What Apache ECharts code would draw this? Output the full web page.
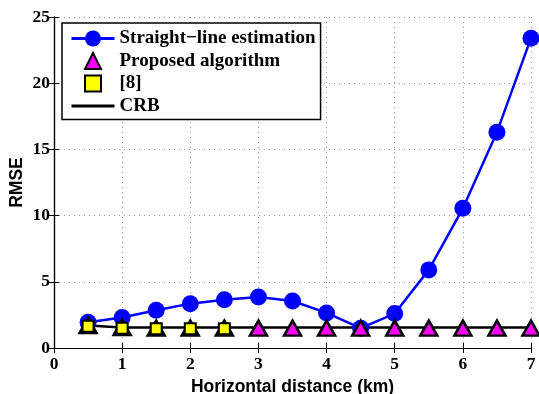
<!DOCTYPE html>
<html><head><meta charset="utf-8">
<script src="https://cdn.jsdelivr.net/npm/echarts@6/dist/echarts.min.js"></script>
<style>html,body{margin:0;padding:0;background:#fff}#c{width:539px;height:394px}</style>
</head><body><div id="c"></div>
<script>
var xValues = [0.5, 1, 1.5, 2, 2.5, 3, 3.5, 4, 4.5, 5, 5.5, 6, 6.5, 7];
var straightLine = [1.95, 2.3, 2.85, 3.35, 3.65, 3.85, 3.55, 2.65, 1.5, 2.6, 5.9, 10.55, 16.3, 23.4];
var proposed = [1.7, 1.55, 1.5, 1.5, 1.5, 1.5, 1.5, 1.5, 1.5, 1.5, 1.5, 1.5, 1.5, 1.5];
var ref8X = [0.5, 1, 1.5, 2, 2.5];
var ref8 = [1.65, 1.5, 1.45, 1.45, 1.45];
var crb = [1.7, 1.55, 1.55, 1.55, 1.55, 1.55, 1.55, 1.55, 1.55, 1.55, 1.55, 1.55, 1.55, 1.55];
var names = ['Straight\u2212line estimation', 'Proposed algorithm', '[8]', 'CRB'];

function pairs(xs, ys) { return xs.map(function (x, i) { return [x, ys[i]]; }); }

var chart = echarts.init(document.getElementById('c'));
var tickFont = { fontFamily: 'Liberation Serif', fontWeight: 'bold', fontSize: 17.5, color: '#000' };
chart.setOption({
  animation: false,
  grid: { left: 54, right: 8, top: 17, bottom: 46, containLabel: false, outerBoundsMode: 'none' },
  legend: {
    orient: 'vertical', left: 62, top: 23,
    padding: [6, 5, 4, 8], itemGap: 3.5, itemWidth: 43, itemHeight: 20,
    backgroundColor: '#fff', borderColor: '#000', borderWidth: 1.5,
    textStyle: { fontFamily: 'Liberation Serif', fontWeight: 'bold', fontSize: 19, color: '#000', padding: [0, 0, 0, 0] },
    data: [
      { name: names[0], lineStyle: { width: 3 } },
      names[1], names[2],
      { name: names[3], itemStyle: { opacity: 0 }, lineStyle: { width: 3 } }
    ]
  },
  xAxis: [{
    type: 'value', min: 0, max: 7, interval: 1,
    name: 'Horizontal distance (km)', nameLocation: 'middle', nameGap: 30, nameMoveOverlap: false,
    nameTextStyle: { fontFamily: 'Liberation Sans', fontWeight: 'bold', fontSize: 17.5, color: '#000' },
    axisLine: { lineStyle: { color: '#000', width: 1.2 } },
    axisTick: { inside: true, length: 5, lineStyle: { color: '#000' } },
    axisLabel: Object.assign({ margin: 7 }, tickFont),
    splitLine: { show: true, lineStyle: { color: '#999', type: [1, 4], width: 1 } }
  }, {
    type: 'value', min: 0, max: 7, interval: 1, position: 'top',
    axisLine: { lineStyle: { color: '#000', width: 1.2 } },
    axisTick: { inside: true, length: 5, lineStyle: { color: '#000' } },
    axisLabel: { show: false }, splitLine: { show: false }
  }],
  yAxis: [{
    type: 'value', min: 0, max: 25, interval: 5,
    name: 'RMSE', nameLocation: 'middle', nameGap: 28, nameRotate: 90, nameMoveOverlap: false,
    nameTextStyle: { fontFamily: 'Liberation Sans', fontWeight: 'bold', fontSize: 17.5, color: '#000' },
    axisLine: { show: true, lineStyle: { color: '#000', width: 1.2 } },
    axisTick: { show: true, inside: true, length: 5, lineStyle: { color: '#000' } },
    axisLabel: Object.assign({ margin: 4 }, tickFont),
    splitLine: { show: true, lineStyle: { color: '#999', type: [1, 4], width: 1 } }
  }, {
    type: 'value', min: 0, max: 25, interval: 5, position: 'right',
    axisLine: { show: true, lineStyle: { color: '#000', width: 1.2 } },
    axisTick: { show: true, inside: true, length: 5, lineStyle: { color: '#000' } },
    axisLabel: { show: false }, splitLine: { show: false }
  }],
  series: [{
    name: names[3], type: 'line', data: pairs(xValues, crb), z: 2,
    symbol: 'none', lineStyle: { color: '#000', width: 2.5 }, itemStyle: { color: '#000' }
  }, {
    name: names[0], type: 'line', data: pairs(xValues, straightLine), z: 3,
    symbol: 'circle', symbolSize: 17, lineStyle: { color: '#0000ff', width: 2.5 },
    itemStyle: { color: '#0000ff', borderWidth: 0 }
  }, {
    name: names[1], type: 'line', data: pairs(xValues, proposed), z: 4,
    symbol: 'triangle', symbolSize: [17, 15], lineStyle: { width: 0, opacity: 0 },
    itemStyle: { color: '#ff00ff', borderColor: '#000', borderWidth: 2.5 }
  }, {
    name: names[2], type: 'line', data: pairs(ref8X, ref8), z: 5,
    symbol: 'rect', symbolSize: 11, lineStyle: { width: 0, opacity: 0 },
    itemStyle: { color: '#ffff00', borderColor: '#000', borderWidth: 2 }
  }]
});
</script></body></html>
